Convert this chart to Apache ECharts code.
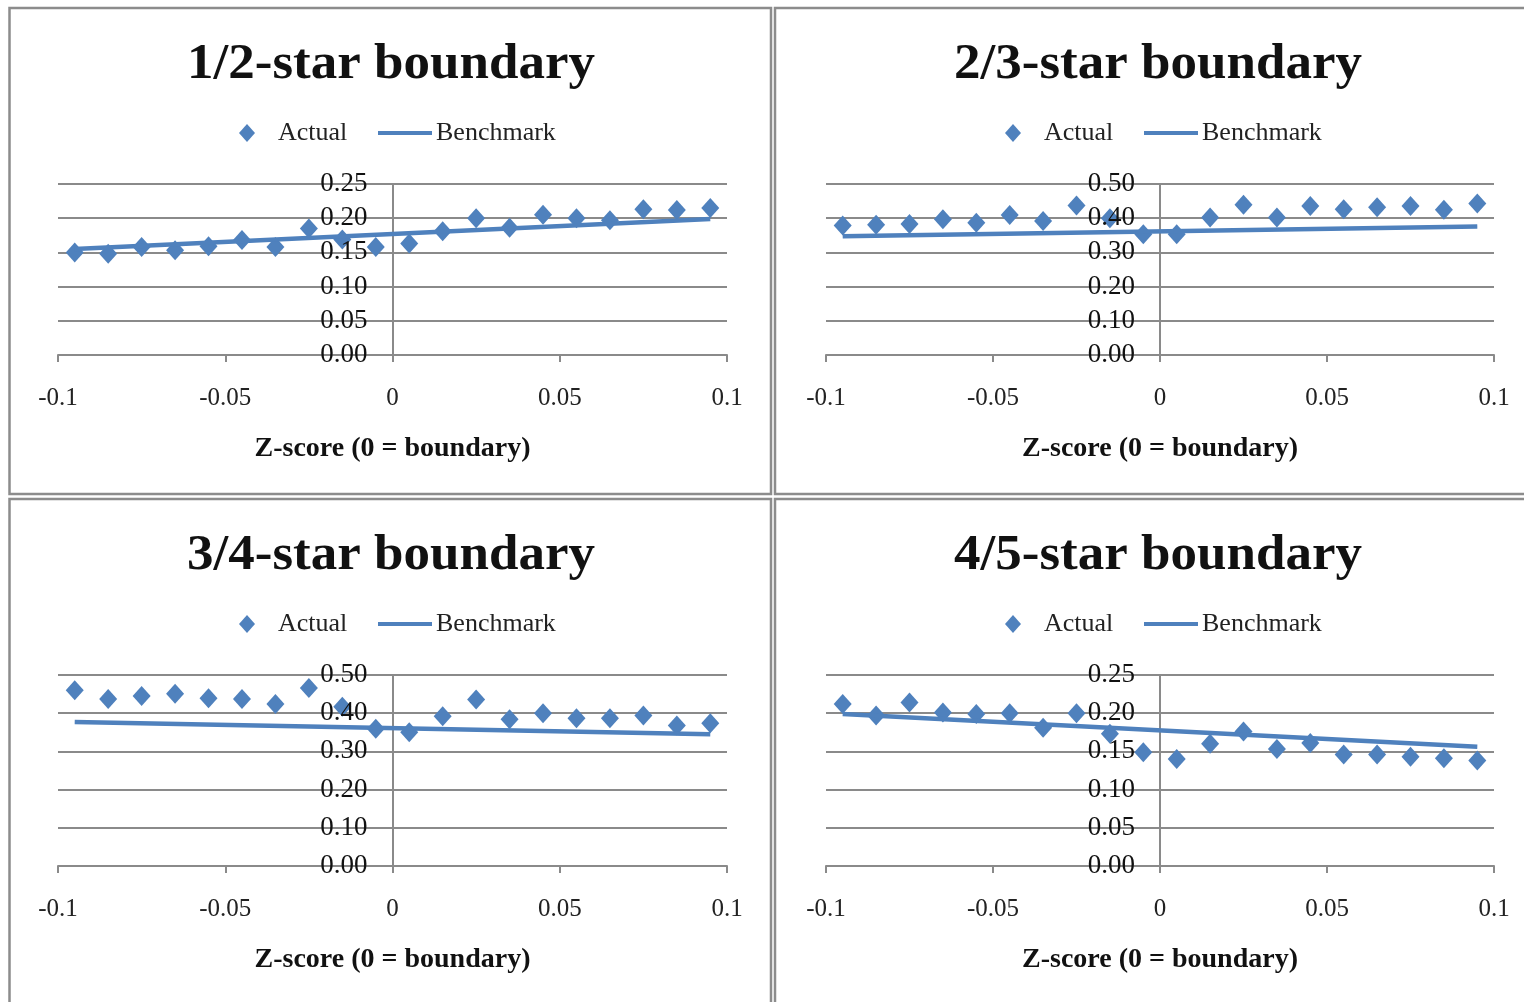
<!DOCTYPE html>
<html>
<head>
<meta charset="utf-8">
<script src="https://cdn.jsdelivr.net/npm/echarts@6/dist/echarts.min.js"></script>
<style>
  html, body { margin: 0; padding: 0; background: #ffffff; }
  #chart { width: 1524px; height: 1002px; }
</style>
</head>
<body>
<div id="chart"></div>
<script>
// Bin centres of the Z-score distance from each star boundary
const zScores = [-0.095, -0.085, -0.075, -0.065, -0.055, -0.045, -0.035, -0.025, -0.015, -0.005,
                 0.005, 0.015, 0.025, 0.035, 0.045, 0.055, 0.065, 0.075, 0.085, 0.095];
const xTickLabels = ['-0.1', '-0.05', '0', '0.05', '0.1'];
const panelTitles = ['1/2-star boundary', '2/3-star boundary', '3/4-star boundary', '4/5-star boundary'];
const xAxisTitle = 'Z-score (0 = boundary)';

// Observed values per bin
const actual12 = [0.150, 0.148, 0.158, 0.153, 0.159, 0.168, 0.158, 0.185, 0.169, 0.158,
                  0.163, 0.181, 0.200, 0.186, 0.205, 0.200, 0.197, 0.213, 0.212, 0.215];
const actual23 = [0.379, 0.381, 0.383, 0.397, 0.387, 0.409, 0.392, 0.437, 0.400, 0.353,
                  0.353, 0.402, 0.439, 0.402, 0.436, 0.426, 0.432, 0.436, 0.425, 0.443];
const actual34 = [0.460, 0.437, 0.445, 0.451, 0.439, 0.437, 0.424, 0.466, 0.417, 0.359,
                  0.350, 0.392, 0.436, 0.384, 0.400, 0.387, 0.387, 0.394, 0.368, 0.374];
const actual45 = [0.212, 0.197, 0.214, 0.201, 0.199, 0.200, 0.181, 0.200, 0.173, 0.149,
                  0.140, 0.160, 0.176, 0.153, 0.161, 0.146, 0.146, 0.143, 0.141, 0.138];

// Benchmark lines: values at the first and last bin
const benchmarkZ = [-0.095, 0.095];
const benchmark12 = [0.155, 0.199];
const benchmark23 = [0.347, 0.376];
const benchmark34 = [0.377, 0.345];
const benchmark45 = [0.199, 0.156];

// y-axis ranges and tick steps
const yMaxes = [0.25, 0.5, 0.5, 0.25];
const ySteps = [0.05, 0.1, 0.1, 0.05];

const actualSets = [actual12, actual23, actual34, actual45];
const benchmarkSets = [benchmark12, benchmark23, benchmark34, benchmark45];

const BLUE = '#4F81BD';
const GRID_GREY = '#8a8a8a';
const SERIF = '"Liberation Serif", "DejaVu Serif", serif';

// Panel geometry: outer frame, plot area, title/legend anchors
const panels = [
  { frame: [9.5, 8, 761.5, 486], plot: { left: 58, top: 184, width: 669, height: 171 }, cx: 391, titleY: 65, legendX: 247, legendY: 134 },
  { frame: [775, 8, 760, 486], plot: { left: 826, top: 184, width: 668, height: 171 }, cx: 1158, titleY: 65, legendX: 1013, legendY: 134 },
  { frame: [9.5, 499, 761.5, 510], plot: { left: 58, top: 675, width: 669, height: 191 }, cx: 391, titleY: 556, legendX: 247, legendY: 625 },
  { frame: [775, 499, 760, 510], plot: { left: 826, top: 675, width: 668, height: 191 }, cx: 1158, titleY: 556, legendX: 1013, legendY: 625 }
];

const option = {
  backgroundColor: '#ffffff',
  animation: false,
  legend: [], grid: [], xAxis: [], yAxis: [], series: [],
  graphic: []
};

const legendText = { fontFamily: SERIF, fontSize: 26, color: '#222222' };

panels.forEach((p, i) => {
  const [fx, fy, fw, fh] = p.frame;
  option.graphic.push({
    type: 'rect', z: -1, silent: true,
    shape: { x: fx, y: fy, width: fw, height: fh },
    style: { fill: 'none', stroke: '#8c8c8c', lineWidth: 2.5 }
  });

  // Panel heading
  option.graphic.push({
    type: 'text', x: p.cx, y: p.titleY, scaleX: 1.06, silent: true,
    style: {
      text: panelTitles[i], fill: '#111111',
      font: 'bold 50px ' + SERIF, textAlign: 'center', textVerticalAlign: 'middle'
    }
  });

  // Legend: diamond marker entry and line entry
  option.legend.push({
    data: [{ name: 'Actual', icon: 'diamond' }],
    left: p.legendX - 8, top: p.legendY - 14, padding: 0,
    itemWidth: 16, itemHeight: 18, selectedMode: false,
    itemStyle: { color: BLUE, opacity: 1 },
    textStyle: Object.assign({ padding: [0, 0, 0, 18] }, legendText)
  });
  option.legend.push({
    data: [{ name: 'Benchmark', icon: 'rect' }],
    left: p.legendX + 131, top: p.legendY - 14, padding: 0,
    itemWidth: 54, itemHeight: 4, selectedMode: false,
    itemStyle: { color: BLUE },
    textStyle: Object.assign({ padding: [0, 0, 0, -1] }, legendText)
  });

  option.grid.push(Object.assign({ containLabel: false, outerBoundsMode: 'none' }, p.plot));

  option.xAxis.push({
    type: 'value', gridIndex: i, min: -0.1, max: 0.1, interval: 0.05,
    name: xAxisTitle, nameLocation: 'middle', nameGap: 80,
    nameTextStyle: { fontFamily: SERIF, fontWeight: 'bold', fontSize: 28, color: '#111111' },
    axisLine: { onZero: false, lineStyle: { color: GRID_GREY, width: 2 } },
    axisTick: { show: true, length: 7, lineStyle: { color: GRID_GREY, width: 2 } },
    axisLabel: {
      margin: 31, fontFamily: SERIF, fontSize: 25, color: '#222222',
      formatter: (v, idx) => xTickLabels[idx]
    },
    splitLine: { show: false }
  });

  // Scale axis behind the markers: gridlines and the vertical line through zero
  option.yAxis.push({
    type: 'value', gridIndex: i, min: 0, max: yMaxes[i], interval: ySteps[i],
    position: 'left', offset: -p.plot.width / 2,
    axisLine: { show: true, onZero: false, lineStyle: { color: GRID_GREY, width: 2 } },
    axisTick: { show: false }, axisLabel: { show: false },
    splitLine: { show: true, lineStyle: { color: GRID_GREY, width: 2 } }
  });
});

// Value labels at x = 0, drawn above the markers
panels.forEach((p, i) => {
  option.yAxis.push({
    type: 'value', gridIndex: i, min: 0, max: yMaxes[i], interval: ySteps[i],
    position: 'left', offset: -p.plot.width / 2, z: 10,
    axisLine: { show: false, onZero: false },
    axisTick: { show: false }, splitLine: { show: false },
    axisLabel: {
      margin: 25, fontFamily: SERIF, fontSize: 27, color: '#111111',
      padding: [3, 0, 0, 0],
      formatter: v => v.toFixed(2)
    }
  });
});

panels.forEach((p, i) => {
  option.series.push({
    name: 'Actual', type: 'scatter', xAxisIndex: i, yAxisIndex: i,
    symbol: 'diamond', symbolSize: [18, 20],
    itemStyle: { color: BLUE, opacity: 1 },
    data: zScores.map((z, k) => [z, actualSets[i][k]])
  });
  option.series.push({
    name: 'Benchmark', type: 'line', xAxisIndex: i, yAxisIndex: i,
    showSymbol: false, symbol: 'none',
    lineStyle: { color: BLUE, width: 4.5 },
    itemStyle: { color: BLUE },
    data: benchmarkZ.map((z, k) => [z, benchmarkSets[i][k]])
  });
});

const chart = echarts.init(document.getElementById('chart'), null, { renderer: 'canvas' });
chart.setOption(option);
</script>
</body>
</html>
